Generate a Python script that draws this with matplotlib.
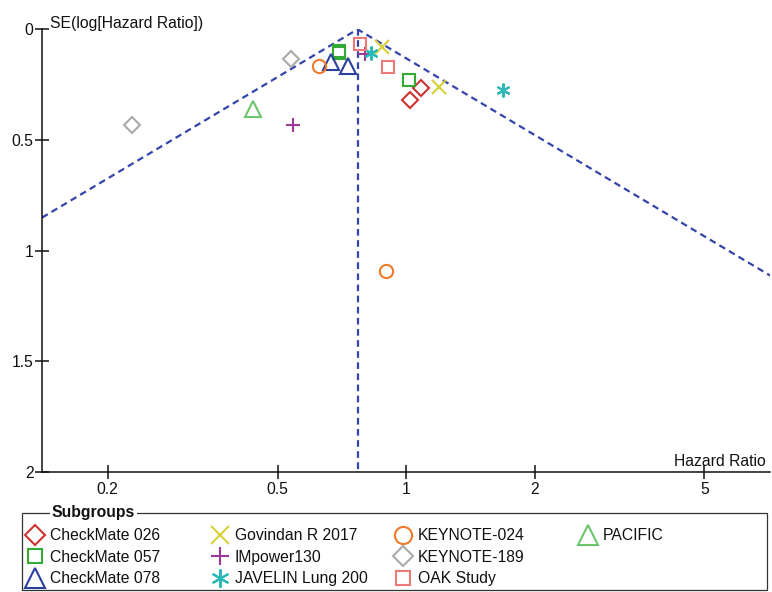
import numpy as np
import matplotlib
matplotlib.use('Agg')
import matplotlib.pyplot as plt
from matplotlib.patches import Rectangle

plt.rcParams['font.family'] = ['Liberation Sans', 'DejaVu Sans']
FS = 11.3

# ---------------- data ----------------
pooled_hr = 0.77
x_ticks = [0.2, 0.5, 1, 2, 5]
x_tick_labels = ['0.2', '0.5', '1', '2', '5']
y_ticks = [0, 0.5, 1, 1.5, 2]
y_tick_labels = ['0', '0.5', '1', '1.5', '2']

cm026_hr = [1.083, 1.02]
cm026_se = [0.265, 0.320]
cm057_hr = [0.695, 0.698, 1.018]
cm057_se = [0.096, 0.108, 0.229]
cm078_hr = [0.669, 0.730]
cm078_se = [0.149, 0.167]
govindan_hr = [0.877, 1.193]
govindan_se = [0.080, 0.259]
impower130_hr = [0.801, 0.544]
impower130_se = [0.111, 0.433]
javelin_hr = [0.826, 1.69]
javelin_se = [0.106, 0.276]
kn024_hr = [0.626, 0.896]
kn024_se = [0.164, 1.094]
kn189_hr = [0.539, 0.228]
kn189_se = [0.133, 0.432]
oak_hr = [0.780, 0.909]
oak_se = [0.065, 0.171]
pacific_hr = [0.437]
pacific_se = [0.360]

series = [
    ('CheckMate 026', cm026_hr, cm026_se, 'D', '#cc3333', 8.0),
    ('CheckMate 057', cm057_hr, cm057_se, 's', '#33aa33', 8.0),
    ('CheckMate 078', cm078_hr, cm078_se, '^', '#2b3f9e', 11.0),
    ('Govindan R 2017', govindan_hr, govindan_se, 'x', '#d6d03a', 9.5),
    ('IMpower130', impower130_hr, impower130_se, '+', '#9b3a9b', 9.5),
    ('JAVELIN Lung 200', javelin_hr, javelin_se, (6, 2, 0), '#2ab8b8', 10.0),
    ('KEYNOTE-024', kn024_hr, kn024_se, 'o', '#f07a2a', 9.5),
    ('KEYNOTE-189', kn189_hr, kn189_se, 'D', '#aaaaaa', 8.0),
    ('OAK Study', oak_hr, oak_se, 's', '#f07878', 8.0),
    ('PACIFIC', pacific_hr, pacific_se, '^', '#6cc46c', 11.0),
]

# ---------------- figure ----------------
W, H = 772, 592
fig = plt.figure(figsize=(W / 100, H / 100), dpi=100)
ax_l, ax_r, ax_t, ax_b = 42, 770, 29.3, 472
ax = fig.add_axes([ax_l / W, 1 - ax_b / H, (ax_r - ax_l) / W, (ax_b - ax_t) / H])

ax.set_xscale('log')
xmin, xmax = 0.1404, 7.12
ax.set_xlim(xmin, xmax)
ax.set_ylim(2, 0)

line_col = '#3344aa'
dash = (0, (3.0, 2.0))
xs = np.array([xmin, pooled_hr, xmax])
ys = np.abs(np.log(xs / pooled_hr)) / 2.0
ax.plot(xs, ys, color=line_col, lw=1.6, linestyle=dash, zorder=2)
ax.plot([pooled_hr, pooled_hr], [0, 2], color=line_col, lw=1.6, linestyle=dash, zorder=2)

handles = []
for name, hx, hy, mk, col, ms in series:
    h, = ax.plot(hx, hy, linestyle='none', marker=mk, markersize=ms,
                 markerfacecolor='none', markeredgecolor=col,
                 markeredgewidth=1.5, color=col, label=name, zorder=3)
    handles.append(h)

for s in ('top', 'right'):
    ax.spines[s].set_visible(False)
for s in ('left', 'bottom'):
    ax.spines[s].set_linewidth(1.1)
    ax.spines[s].set_color('#111111')

ax.set_xticks(x_ticks)
ax.set_xticklabels(x_tick_labels)
ax.xaxis.set_minor_locator(matplotlib.ticker.NullLocator())
ax.set_yticks(y_ticks)
ax.set_yticklabels(y_tick_labels)
ax.tick_params(axis='both', direction='inout', length=10, width=1.1,
               labelsize=FS, color='#111111', labelcolor='#111111')
ax.tick_params(axis='x', pad=2)
ax.tick_params(axis='y', pad=1)

ax.annotate('SE(log[Hazard Ratio])', xy=(0, 1), xycoords='axes fraction',
            xytext=(8, 1.5), textcoords='offset pixels', ha='left', va='baseline',
            fontsize=FS, color='#111111')
ax.annotate('Hazard Ratio', xy=(1, 0), xycoords='axes fraction',
            xytext=(-4, 6), textcoords='offset pixels', ha='right', va='baseline',
            fontsize=FS, color='#111111')

# ---------------- legend ----------------
box_l, box_t, box_r, box_b = 22, 513, 767, 590
fig.patches.append(Rectangle((box_l / W, 1 - box_b / H), (box_r - box_l) / W,
                             (box_b - box_t) / H, transform=fig.transFigure,
                             fill=False, edgecolor='#333333', lw=0.9))
fig.text(52 / W, 1 - box_t / H, 'Subgroups', ha='left', va='center',
         fontsize=FS, fontweight='bold', color='#111111',
         bbox=dict(facecolor='white', edgecolor='none', pad=1.5))

col_centers = [35, 220, 403, 588]
cols = [handles[0:3], handles[3:6], handles[6:9], handles[9:10]]
fs_px = FS * 100 / 72
for cx, hs in zip(col_centers, cols):
    start = cx - fs_px * 0.5
    fig.legend(hs, [h.get_label() for h in hs], loc='upper left',
               bbox_to_anchor=(start / W, 1 - 528 / H),
               frameon=False, borderpad=0, borderaxespad=0,
               handlelength=1.0, handletextpad=0.45, labelspacing=0.42,
               fontsize=FS, markerscale=1.3, labelcolor='#111111')

fig.savefig('out.png', dpi=100)
